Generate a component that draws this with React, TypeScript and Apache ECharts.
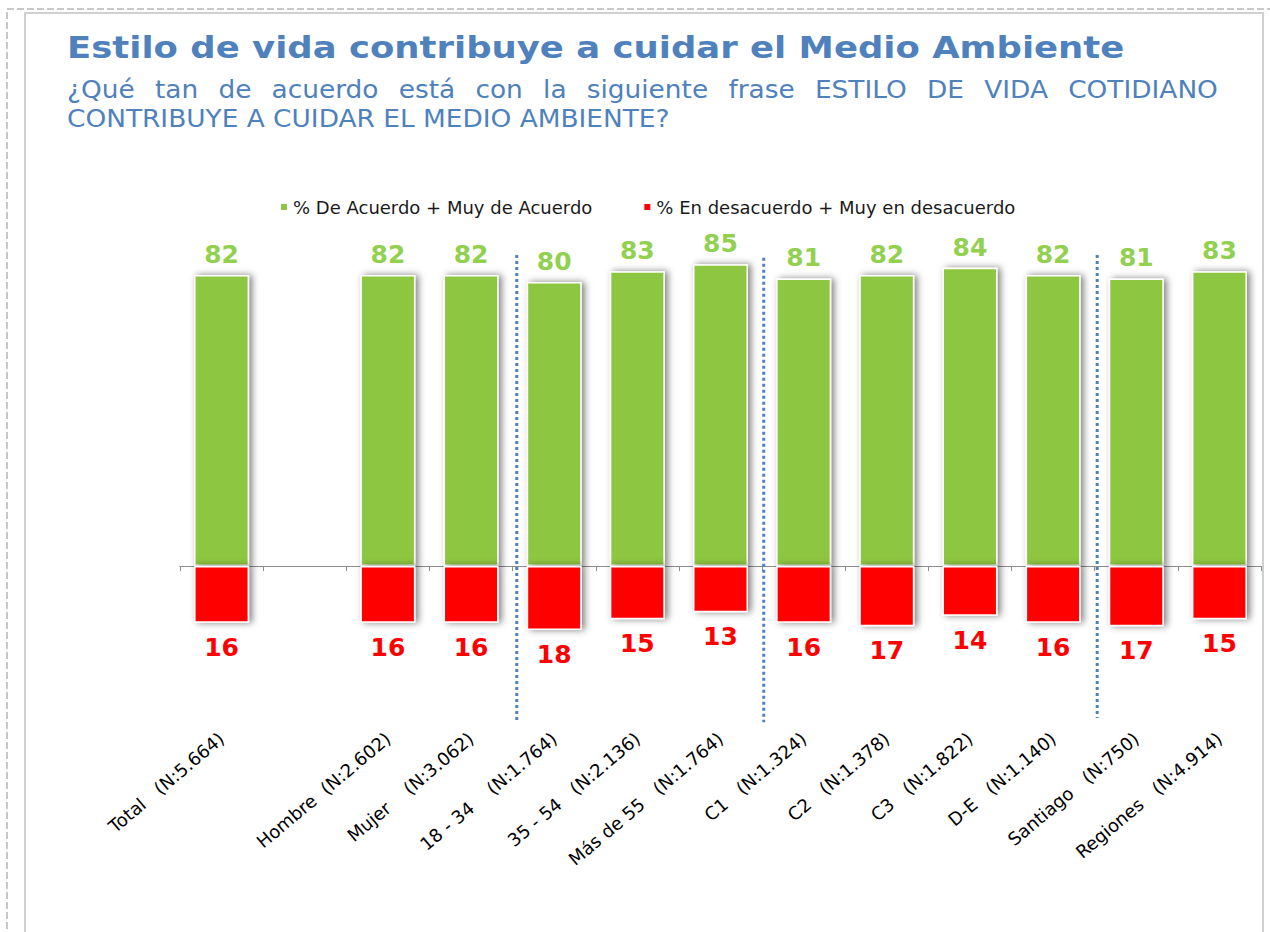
import React, { useEffect, useRef } from "react";
import * as echarts from "echarts";

const categories = [
  "Total   (N:5.664)",
  "",
  "Hombre  (N:2.602)",
  "Mujer    (N:3.062)",
  "18 - 34    (N:1.764)",
  "35 - 54   (N:2.136)",
  "Más de 55   (N:1.764)",
  "C1   (N:1.324)",
  "C2   (N:1.378)",
  "C3   (N:1.822)",
  "D-E   (N:1.140)",
  "Santiago   (N:750)",
  "Regiones   (N:4.914)",
];

const agreeValues: (number | string)[] = [82, "-", 82, 82, 80, 83, 85, 81, 82, 84, 82, 81, 83];
const disagreeValues: (number | string)[] = [16, "-", 16, 16, 18, 15, 13, 16, 17, 14, 16, 17, 15];

const seriesNames = ["% De Acuerdo + Muy de Acuerdo", "% En desacuerdo + Muy en desacuerdo"];

// group separators (positions on a 0..13 category scale, vertical extent in value units)
const separators = [
  [4.05, 87.6, -43.4],
  [7.02, 86.8, -44.0],
  [11.03, 87.6, -42.8],
];

const titleText = "Estilo de vida contribuye a cuidar el Medio Ambiente";
const subtitleLine1 = "¿Qué tan de acuerdo está con la siguiente frase ESTILO DE VIDA COTIDIANO";
const subtitleLine2 = "CONTRIBUYE A CUIDAR EL MEDIO AMBIENTE?";

const BLUE = "#4f81bd";
const FONT = '"DejaVu Sans", Verdana, sans-serif';

function measure(text: string, font: string): number {
  const c = document.createElement("canvas");
  const ctx = c.getContext("2d");
  if (!ctx) return text.length * 10;
  ctx.font = font;
  return ctx.measureText(text).width;
}

export default function App() {
  const ref = useRef<HTMLDivElement>(null);

  useEffect(() => {
    if (!ref.current) return;
    const chart = echarts.init(ref.current, null, { renderer: "svg" });

    // title, stretched horizontally to mimic the wider original face
    const titleFont = `bold 31px ${FONT}`;
    const titleScale = 1058 / measure(titleText, titleFont);

    // subtitle: line 2 natural width ~603px, line 1 justified to 1218
    const subFont = `25px ${FONT}`;
    const subScale = 603 / measure(subtitleLine2, subFont);
    const words = subtitleLine1.split(" ");
    const widths = words.map((w) => measure(w, subFont) * subScale);
    const totalW = widths.reduce((a, b) => a + b, 0);
    const x0 = 67;
    const x1 = 1218;
    const gap = (x1 - x0 - totalW) / (words.length - 1);
    const wordEls: any[] = [];
    let cx = x0;
    words.forEach((w, i) => {
      wordEls.push({
        type: "text",
        x: cx,
        y: 89,
        scaleX: subScale,
        style: { text: w, font: subFont, fill: BLUE, verticalAlign: "middle", align: "left" },
      });
      cx += widths[i] + gap;
    });

    const disagreeNeg = disagreeValues.map((v) => (typeof v === "number" ? -v : v));

    const option: any = {
      animation: false,
      backgroundColor: "#ffffff",
      graphic: [
        {
          type: "rect",
          shape: { x: 7, y: 9, width: 1300, height: 1000 },
          style: { fill: "none", stroke: "#c8c8c8", lineWidth: 2, lineDash: [7, 3] },
          silent: true,
        },
        {
          type: "rect",
          shape: { x: 25, y: 13, width: 1238, height: 1000 },
          style: { fill: "none", stroke: "#d0d0d0", lineWidth: 2 },
          silent: true,
        },
        {
          type: "text",
          x: 67,
          y: 47,
          scaleX: titleScale,
          style: { text: titleText, font: titleFont, fill: BLUE, verticalAlign: "middle", align: "left" },
        },
        ...wordEls,
        {
          type: "text",
          x: 67,
          y: 118,
          scaleX: subScale,
          style: { text: subtitleLine2, font: subFont, fill: BLUE, verticalAlign: "middle", align: "left" },
        },
      ],
      legend: {
        data: seriesNames,
        left: 274,
        top: 193,
        itemWidth: 8,
        itemHeight: 8,
        itemGap: 50,
        icon: "rect",
        textStyle: { fontFamily: FONT, fontSize: 18, color: "#1a1a1a", padding: [0, 0, 0, 0] },
      },
      grid: { left: 180, right: 9, top: 211, bottom: 224, containLabel: false, outerBoundsMode: "none" },
      xAxis: [
        {
          type: "category",
          data: categories,
          boundaryGap: true,
          axisLine: { onZero: true, lineStyle: { color: "#8c8c8c", width: 1 } },
          axisTick: { show: true, length: 5, lineStyle: { color: "#8c8c8c" } },
          axisLabel: {
            rotate: 40,
            margin: 28,
            interval: 0,
            fontFamily: FONT,
            fontSize: 18,
            color: "#000000",
          },
          splitLine: { show: false },
        },
        {
          type: "value",
          min: 0,
          max: 13,
          show: false,
          position: "bottom",
          splitLine: { show: false },
        },
      ],
      yAxis: {
        type: "value",
        min: -40,
        max: 100,
        show: false,
        splitLine: { show: false },
      },
      series: [
        {
          name: seriesNames[0],
          type: "bar",
          data: agreeValues,
          barWidth: 55,
          barGap: "-100%",
          itemStyle: {
            color: "#8dc63f",
            borderColor: "#ffffff",
            borderWidth: 1.5,
            shadowColor: "rgba(0,0,0,0.5)",
            shadowBlur: 7,
            shadowOffsetX: 3,
            shadowOffsetY: 0,
          },
          label: {
            show: true,
            position: "top",
            distance: 8,
            fontFamily: FONT,
            fontWeight: "bold",
            fontSize: 25,
            color: "#92d050",
          },
        },
        {
          name: seriesNames[1],
          type: "bar",
          data: disagreeNeg,
          barWidth: 55,
          barGap: "-100%",
          itemStyle: {
            color: "#ff0000",
            borderColor: "#ffffff",
            borderWidth: 1.5,
            shadowColor: "rgba(0,0,0,0.5)",
            shadowBlur: 7,
            shadowOffsetX: 3,
            shadowOffsetY: 0,
          },
          label: {
            show: true,
            position: "bottom",
            distance: 12,
            fontFamily: FONT,
            fontWeight: "bold",
            fontSize: 25,
            color: "#ff0000",
            formatter: (p: any) => String(Math.abs(p.value)),
          },
        },
        {
          type: "custom",
          xAxisIndex: 1,
          yAxisIndex: 0,
          data: separators,
          encode: { x: 0, y: [1, 2] },
          silent: true,
          clip: false,
          z: 5,
          renderItem: (params: any, api: any) => {
            const x = api.value(0);
            const p1 = api.coord([x, api.value(1)]);
            const p2 = api.coord([x, api.value(2)]);
            return {
              type: "line",
              shape: { x1: p1[0], y1: p1[1], x2: p2[0], y2: p2[1] },
              style: { stroke: BLUE, lineWidth: 3, lineDash: [3, 3] },
            };
          },
        },
      ],
    };

    chart.setOption(option);
    return () => chart.dispose();
  }, []);

  return (
    <div
      ref={ref}
      style={{ position: "fixed", left: 0, top: 0, width: 1270, height: 932, background: "#fff" }}
    />
  );
}
